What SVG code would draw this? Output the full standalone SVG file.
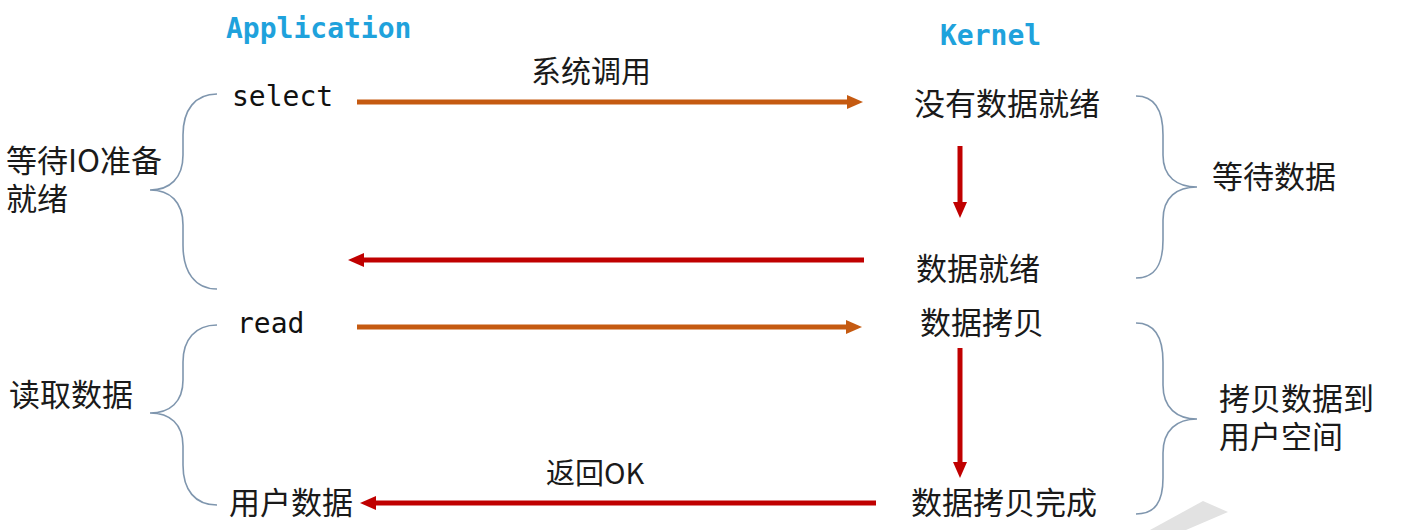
<svg xmlns="http://www.w3.org/2000/svg" width="1417" height="530" viewBox="0 0 1417 530">
<style>
.head{font-family:"DejaVu Sans Mono","Liberation Mono",monospace;font-size:28px;font-weight:bold;fill:#1FA2DC}
.mono{font-family:"DejaVu Sans Mono","Liberation Mono",monospace;font-size:28px;fill:#111}
.cjk{font-family:"Noto Sans CJK SC","Noto Sans",sans-serif;font-size:31px;fill:#1a1a1a}
.brace{fill:none;stroke:#7F96AE;stroke-width:1.6}
.orange{stroke:#C55A11;stroke-width:5;fill:none}
.red{stroke:#C00000;stroke-width:5;fill:none}
</style>
<defs>
<marker id="ho" markerUnits="userSpaceOnUse" markerWidth="16" markerHeight="14" viewBox="0 0 16 14" refX="6" refY="7" orient="auto"><path d="M0,0 L16,7 L0,14 z" fill="#C55A11"/></marker>
<marker id="hr" markerUnits="userSpaceOnUse" markerWidth="16" markerHeight="14" viewBox="0 0 16 14" refX="6" refY="7" orient="auto"><path d="M0,0 L16,7 L0,14 z" fill="#C00000"/></marker>
</defs>
<rect width="1417" height="530" fill="#fff"/>
<polygon points="1150,530 1203,501 1228,512 1186,530" fill="#E2E2E2"/>
<g id="headers">
<text class="head" x="226" y="38">Application</text>
<text class="head" x="940" y="45">Kernel</text>
</g>
<g id="select"><text class="mono" x="232" y="106">select</text></g>
<g id="read"><text class="mono" x="237" y="333">read</text></g>
<g id="user-data"><text class="cjk" x="229" y="514">用户数据</text></g>
<g id="no-data"><text class="cjk" x="914" y="115">没有数据就绪</text></g>
<g id="data-ready"><text class="cjk" x="916" y="279.5">数据就绪</text></g>
<g id="data-copy"><text class="cjk" x="920" y="333.5">数据拷贝</text></g>
<g id="copy-done"><text class="cjk" x="911" y="514">数据拷贝完成</text></g>
<g id="wait-io">
<path class="brace" d="M217,94 C195,94 183,110 183,135 L183,155 C183,178 170,190 150,190 C170,190 183,202 183,225 L183,245 C183,272 195,289 217,289"/>
<text class="cjk"><tspan x="6" y="172">等待IO准备</tspan><tspan x="6" y="210">就绪</tspan></text>
</g>
<g id="read-data">
<path class="brace" d="M217,325 C195,325 183,340 183,362 L183,380 C183,402 170,413 150,413 C170,413 183,424 183,446 L183,465 C183,490 195,505 217,505"/>
<text class="cjk" x="9" y="405.5">读取数据</text>
</g>
<g id="wait-data">
<path class="brace" d="M1136,96 C1155,96 1163,110 1163,135 L1163,155 C1163,177 1177,187 1197,187 C1177,187 1163,197 1163,220 L1163,240 C1163,265 1155,278 1136,278"/>
<text class="cjk" x="1212" y="187.5">等待数据</text>
</g>
<g id="copy-to-user">
<path class="brace" d="M1136,323 C1155,323 1163,338 1163,362 L1163,385 C1163,408 1177,419 1197,419 C1177,419 1163,430 1163,453 L1163,478 C1163,502 1155,514 1136,514"/>
<text class="cjk"><tspan x="1219" y="410">拷贝数据到</tspan><tspan x="1219" y="448">用户空间</tspan></text>
</g>
<g id="connectors">
<line class="orange" x1="357" y1="102" x2="853" y2="102" marker-end="url(#ho)"/>
<text class="cjk" x="531" y="81.5" style="font-size:30px">系统调用</text>
<line class="red" x1="864" y1="260" x2="358" y2="260" marker-end="url(#hr)"/>
<line class="orange" x1="357" y1="327" x2="852" y2="327" marker-end="url(#ho)"/>
<line class="red" x1="876" y1="503" x2="370" y2="503" marker-end="url(#hr)"/>
<text class="cjk" x="546" y="483.5" style="font-size:29px">返回OK</text>
<line class="red" x1="960" y1="146" x2="960" y2="208" marker-end="url(#hr)"/>
<line class="red" x1="960" y1="348" x2="960" y2="468" marker-end="url(#hr)"/>
</g>
</svg>
